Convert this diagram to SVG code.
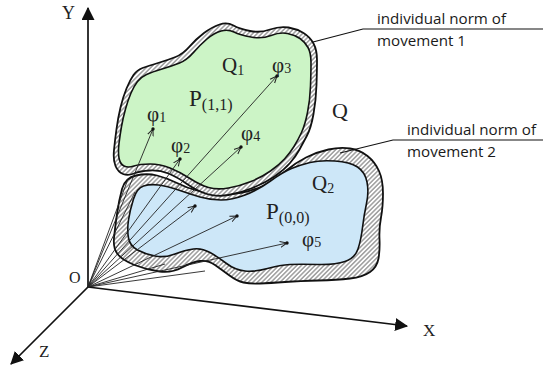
<svg xmlns="http://www.w3.org/2000/svg" width="543" height="368" viewBox="0 0 543 368">
<style>
.hatch{fill:url(#h);stroke:#111;stroke-width:1.8}
.green{fill:#ccf4c6;stroke:#111;stroke-width:1.6}
.blue{fill:#cde7f8;stroke:#111;stroke-width:1.6}
.vec{stroke:#222;stroke-width:0.9;fill:none}
.vecA{stroke:#222;stroke-width:0.9;fill:none;marker-end:url(#va)}
.axis{stroke:#111;stroke-width:1.7;fill:none}
.serif{font-family:"Liberation Serif","Times New Roman",serif;fill:#222}
.sans{font-family:"Open Sans","Liberation Sans",sans-serif;font-size:14.5px;fill:#1a1a1a}
.call{stroke:#111;stroke-width:1.2;fill:none}
.dot{fill:#111}
</style>
<defs>
<pattern id="h" width="3.2" height="3.2" patternUnits="userSpaceOnUse" patternTransform="rotate(45)">
<rect width="3.2" height="3.2" fill="#fff"/>
<line x1="0.8" y1="0" x2="0.8" y2="3.2" stroke="#8f8f8f" stroke-width="1.3"/>
</pattern>
<marker id="va" viewBox="0 0 8 8" refX="7" refY="4" markerWidth="8" markerHeight="8" markerUnits="userSpaceOnUse" orient="auto">
<path d="M0,1 L7,4 L0,7" fill="none" stroke="#222" stroke-width="1"/>
</marker>
<marker id="ax" viewBox="0 0 12 12" refX="11" refY="6" markerWidth="13" markerHeight="13" markerUnits="userSpaceOnUse" orient="auto">
<path d="M0,0 L12,6 L0,12 Z" fill="#111"/>
</marker>
</defs>

<g id="axes">
<line class="axis" x1="88" y1="287" x2="88" y2="8" marker-end="url(#ax)"/>
<line class="axis" x1="88" y1="287" x2="407" y2="326" marker-end="url(#ax)"/>
<line class="axis" x1="88" y1="287" x2="11" y2="364" marker-end="url(#ax)"/>
<text class="serif" x="62" y="19" font-size="18">Y</text>
<text class="serif" x="423" y="336" font-size="17">X</text>
<text class="serif" x="39" y="357" font-size="17">Z</text>
<text class="serif" x="69" y="283" font-size="16">O</text>
</g>

<g id="Q2">
<path class="hatch" d="M122,189 Q125,178 136,175.5 Q147,173 157,175.5 Q167,178 177,183 Q187,188 197,190.5 Q207,193 218.5,194 Q230,195 242.5,192.5 Q255,190 265,185 Q275,180 285,171.5 Q295,163 306,157.5 Q317,152 328.5,149.5 Q340,147 350,148.5 Q360,150 367.5,156 Q375,162 379,171 Q383,180 383,193.5 Q383,207 381,217.5 Q379,228 379.5,239 Q380,250 378.5,258.5 Q377,267 370,272 Q363,277 350,278.5 Q337,280 318.5,280.5 Q300,281 285,282 Q270,283 260,283.5 Q250,284 243.5,282.5 Q237,281 229.5,275.5 Q222,270 215,265 Q208,260 200,261 Q192,262 182,267.5 Q172,273 159.5,271.5 Q147,270 134.5,265 Q122,260 117.5,254 Q113,248 114,238 Q115,228 117,214 Q119,200 122,189 Z"/>
</g>
<g id="P00">
<path class="blue" d="M133.5,199 Q137,188 143.5,186 Q150,184 158.5,185 Q167,186 178.5,190 Q190,194 200,197 Q210,200 221,200 Q232,200 245,195 Q258,190 270.5,181 Q283,172 291.5,168.5 Q300,165 310,162.5 Q320,160 335,161 Q350,162 357.5,167 Q365,172 367,182 Q369,192 366.5,203.5 Q364,215 362.5,227.5 Q361,240 358,249 Q355,258 345,261.5 Q335,265 317.5,264.5 Q300,264 290,264.5 Q280,265 267.5,268.5 Q255,272 245,271 Q235,270 226.5,263.5 Q218,257 210,252.5 Q202,248 193.5,249 Q185,250 175,254 Q165,258 155,256 Q145,254 137.5,250 Q130,246 128.5,238 Q127,230 128.5,220 Q130,210 133.5,199 Z"/>
</g>
<g id="Q1">
<path class="hatch" d="M219.5,24.5 Q227,22 233.5,25.5 Q240,29 250,31 Q260,33 270,29.5 Q280,26 288.5,27.5 Q297,29 303.5,33 Q310,37 313.5,43.5 Q317,50 317,60 Q317,70 316.5,85 Q316,100 313.5,114 Q311,128 307,135.5 Q303,143 299.5,149.5 Q296,156 290,163 Q284,170 274.5,176.5 Q265,183 252.5,188 Q240,193 228.5,195 Q217,197 207,194 Q197,191 187,184 Q177,177 168.5,173.5 Q160,170 150,170.5 Q140,171 134,173.5 Q128,176 123,174 Q118,172 115.5,166 Q113,160 114,150 Q115,140 116.5,129 Q118,118 120.5,107.5 Q123,97 126.5,88.5 Q130,80 133.5,75 Q137,70 142.5,68 Q148,66 158,63 Q168,60 175.5,57 Q183,54 189.5,46.5 Q196,39 204,33 Q212,27 219.5,24.5 Z"/>
</g>
<g id="P11">
<path class="green" d="M221,31 Q228,29 234,32 Q240,35 251,37 Q262,39 271,35.5 Q280,32 287.5,33.5 Q295,35 300,38.5 Q305,42 308,47.5 Q311,53 311,62.5 Q311,72 310.5,86 Q310,100 307.5,112.5 Q305,125 301.5,132.5 Q298,140 294,146.5 Q290,153 284.5,159 Q279,165 270.5,171 Q262,177 251,181.5 Q240,186 228.5,188 Q217,190 208.5,187.5 Q200,185 190,178.5 Q180,172 170,168 Q160,164 150,164 Q140,164 134,166 Q128,168 124,166 Q120,164 119,158 Q118,152 119,143.5 Q120,135 121.5,126.5 Q123,118 125.5,109 Q128,100 131,93 Q134,86 137.5,81.5 Q141,77 146.5,74.5 Q152,72 162,69 Q172,66 179.5,63 Q187,60 193.5,52.5 Q200,45 207,39 Q214,33 221,31 Z"/>
</g>

<g id="connectors">
<line class="vec" x1="88" y1="287" x2="128" y2="179"/>
<line class="vec" x1="88" y1="287" x2="135" y2="192"/>
<line class="vec" x1="88" y1="287" x2="165" y2="264"/>
<line class="vec" x1="88" y1="287" x2="205" y2="271"/>
<line class="vecA" x1="88" y1="287" x2="153" y2="129"/>
<line class="vecA" x1="88" y1="287" x2="180" y2="159"/>
<line class="vecA" x1="88" y1="287" x2="277" y2="76"/>
<line class="vecA" x1="88" y1="287" x2="241" y2="147"/>
<line class="vecA" x1="88" y1="287" x2="195" y2="206"/>
<line class="vecA" x1="88" y1="287" x2="237" y2="216"/>
<line class="vecA" x1="88" y1="287" x2="287" y2="243"/>
<circle class="dot" cx="153" cy="129" r="1.7"/>
<circle class="dot" cx="180" cy="159" r="1.7"/>
<circle class="dot" cx="277" cy="76" r="1.7"/>
<circle class="dot" cx="241" cy="147" r="1.7"/>
<circle class="dot" cx="195" cy="206" r="1.7"/>
<circle class="dot" cx="237" cy="216" r="1.7"/>
<circle class="dot" cx="287" cy="243" r="1.7"/>
<polyline class="call" points="313,42 363,29 543,29"/>
<polyline class="call" points="340,153 393,140 543,140"/>
</g>

<g id="labels">
<text class="serif" x="222" y="72" font-size="21">Q<tspan font-size="14" dy="3">1</tspan></text>
<text class="serif" x="189" y="106" font-size="23">P<tspan font-size="16" dy="4">(1,1)</tspan></text>
<text class="serif" x="332" y="118" font-size="22">Q</text>
<text class="serif" x="312" y="190" font-size="21">Q<tspan font-size="14" dy="3">2</tspan></text>
<text class="serif" x="266" y="219" font-size="23">P<tspan font-size="16" dy="4">(0,0)</tspan></text>
<text class="serif" x="147" y="121" font-size="21">φ<tspan font-size="14" dy="1">1</tspan></text>
<text class="serif" x="171" y="152" font-size="21">φ<tspan font-size="14" dy="1">2</tspan></text>
<text class="serif" x="272" y="72" font-size="21">φ<tspan font-size="14" dy="1">3</tspan></text>
<text class="serif" x="241" y="140" font-size="21">φ<tspan font-size="14" dy="1">4</tspan></text>
<text class="serif" x="302" y="246" font-size="21">φ<tspan font-size="14" dy="1">5</tspan></text>
<text class="sans" x="377" y="24" textLength="129" lengthAdjust="spacingAndGlyphs">individual norm of</text>
<text class="sans" x="377" y="46" textLength="89" lengthAdjust="spacingAndGlyphs">movement 1</text>
<text class="sans" x="407" y="135" textLength="129" lengthAdjust="spacingAndGlyphs">individual norm of</text>
<text class="sans" x="407" y="157" textLength="89" lengthAdjust="spacingAndGlyphs">movement 2</text>
</g>
</svg>
